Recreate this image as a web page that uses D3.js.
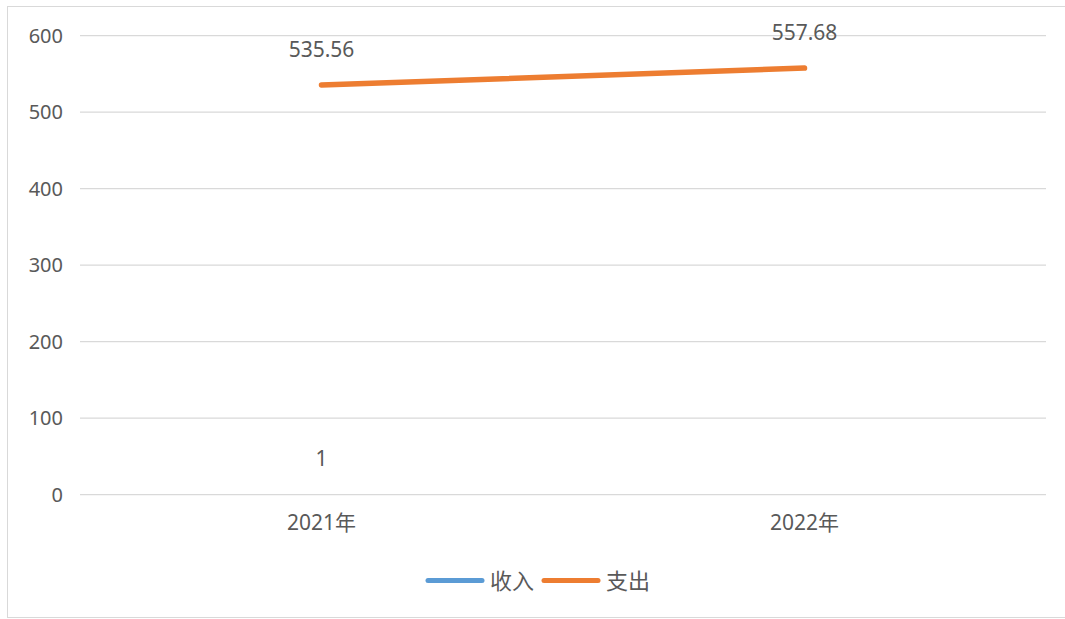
<!DOCTYPE html>
<html>
<head>
<meta charset="utf-8">
<script src="https://cdn.jsdelivr.net/npm/d3@7"></script>
<style>
  body { margin: 0; background: #fff; }
  text { font-family: "Noto Sans", "Noto Sans CJK SC", sans-serif; fill: #595959; }
</style>
</head>
<body>
<svg id="chart"></svg>
<script>
// chart data
var categories = ["2021年", "2022年"]
var incomeValues = [1, null]
var spendValues = [535.56, 557.68]
var yTicks = [0, 100, 200, 300, 400, 500, 600]

var series = [
  {name: "收入", color: "#5B9BD5", values: incomeValues},
  {name: "支出", color: "#ED7D31", values: spendValues}
]

var width = 1065, height = 619
var margins = {left: 80, right: 19, top: 35.7, bottom: 124.3}
var fontStack = "'Noto Sans', 'Noto Sans CJK SC', sans-serif"

var svg = d3.select("#chart")
  .attr("width", width)
  .attr("height", height)

// outer border
svg.append("rect")
  .attr("x", 7.5).attr("y", 6.5)
  .attr("width", 1070).attr("height", 611)
  .attr("fill", "none")
  .attr("stroke", "#d9d9d9")

var xScale = d3.scaleBand()
  .domain(categories)
  .range([margins.left, width - margins.right])

var yScale = d3.scaleLinear()
  .domain([0, 600])
  .range([height - margins.bottom, margins.top])

// gridlines
svg.append("g")
  .selectAll("line")
  .data(yTicks)
  .enter().append("line")
  .attr("x1", margins.left)
  .attr("x2", width - margins.right)
  .attr("y1", d => yScale(d))
  .attr("y2", d => yScale(d))
  .attr("stroke", "#d9d9d9")
  .attr("stroke-width", 1.3)

// y axis labels
var yAxis = svg.append("g")
  .attr("transform", "translate(" + (margins.left - 17) + ",0)")
  .call(d3.axisLeft(yScale).tickValues(yTicks).tickSize(0).tickPadding(0))
yAxis.select(".domain").remove()
yAxis.selectAll("text")
  .attr("font-size", 20)
  .attr("fill", "#595959")
  .style("font-family", fontStack)

// x axis labels
var xAxis = svg.append("g")
  .attr("transform", "translate(0," + yScale(0) + ")")
  .call(d3.axisBottom(xScale).tickSize(0).tickPadding(20))
xAxis.select(".domain").remove()
xAxis.selectAll("text")
  .attr("font-size", 21)
  .attr("fill", "#595959")
  .style("font-family", fontStack)

var cx = d => xScale(d) + xScale.bandwidth() / 2

var line = d3.line()
  .defined(d => d.v != null)
  .x(d => cx(d.c))
  .y(d => yScale(d.v))

series.forEach(s => {
  var pts = categories.map((c, i) => ({c: c, v: s.values[i]}))
  var drawn = pts.filter(d => d.v != null)
  // a single point has no visible segment
  if (drawn.length > 1) {
    svg.append("path")
      .datum(pts)
      .attr("fill", "none")
      .attr("stroke", s.color)
      .attr("stroke-width", 5.5)
      .attr("stroke-linecap", "round")
      .attr("d", line)
  }

  svg.append("g")
    .selectAll("text")
    .data(drawn)
    .enter().append("text")
    .attr("x", d => cx(d.c))
    .attr("y", d => yScale(d.v) - 28)
    .attr("text-anchor", "middle")
    .attr("font-size", 21)
    .attr("fill", "#404040")
    .text(d => d.v)
})

// legend
var legend = svg.append("g")
var lx = [426, 542]
series.forEach((s, i) => {
  legend.append("line")
    .attr("x1", lx[i] + 2).attr("x2", lx[i] + 56)
    .attr("y1", 580.5).attr("y2", 580.5)
    .attr("stroke", s.color)
    .attr("stroke-width", 5)
    .attr("stroke-linecap", "round")
  legend.append("text")
    .attr("x", lx[i] + 64)
    .attr("y", 588.5)
    .attr("font-size", 22)
    .text(s.name)
})
</script>
</body>
</html>
